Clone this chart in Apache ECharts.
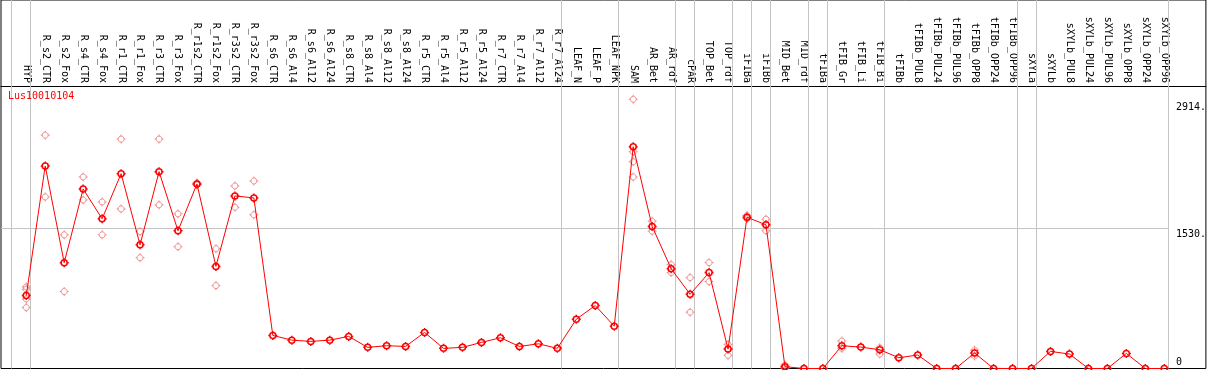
<!DOCTYPE html>
<html>
<head>
<meta charset="utf-8">
<script src="https://cdn.jsdelivr.net/npm/echarts@6/dist/echarts.min.js"></script>
<style>
html,body{margin:0;padding:0;background:#fff;}
#chart{width:1209px;height:370px;}
</style>
</head>
<body>
<div id="chart"></div>
<script>
// ---- data ----
var title = 'Lus10010104';
var categories = ['HYP','R_s2_CTR','R_s2_Fox','R_s4_CTR','R_s4_Fox','R_r1_CTR','R_r1_Fox','R_r3_CTR','R_r3_Fox','R_r1s2_CTR','R_r1s2_Fox','R_r3s2_CTR','R_r3s2_Fox','R_s6_CTR','R_s6_Al4','R_s6_Al12','R_s6_Al24','R_s8_CTR','R_s8_Al4','R_s8_Al12','R_s8_Al24','R_r5_CTR','R_r5_Al4','R_r5_Al12','R_r5_Al24','R_r7_CTR','R_r7_Al4','R_r7_Al12','R_r7_Al24','LEAF_N','LEAF_P','LEAF_NPK','SAM','AR_Bet','AR_rdf','cPAR','TOP_Bet','TOP_rdf','iFIBa','iFIBb','MID_Bet','MID_rdf','tFIBa','tFIB_Gr','tFIB_Li','tFIB_Bi','tFIBb','tFIBb_PUL8','tFIBb_PUL24','tFIBb_PUL96','tFIBb_OPP8','tFIBb_OPP24','tFIBb_OPP96','sXYLa','sXYLb','sXYLb_PUL8','sXYLb_PUL24','sXYLb_PUL96','sXYLb_OPP8','sXYLb_OPP24','sXYLb_OPP96'];
var meanValues = [797,2213,1156,1962,1636,2129,1352,2151,1505,2017,1116,1886,1864,361,310,296,310,351,231,249,241,394,220,231,285,336,241,270,220,539,688,463,2423,1552,1091,811,1048,212,1653,1570,20,0,0,249,234,205,118,147,0,0,169,0,0,0,187,158,0,0,165,0,0];
var replicateValues = [
  [891,866,760,666],[2550,1875],[1461,841],[2093,1842],[1820,1461],[2507,1744],[1497,1211],[2507,1788],[1690,1331],[2028,2006],[1309,906],[1995,1762],[2049,1679],
  [],[],[],[],[],[],[],[],[],[],[],[],[],[],[],[],[],[],[],
  [2942,2369,2260,2093],[1610,1501],[1135,1048],[993,615],[1157,950],[263,144],[1672,1636],[1632,1505],[38,5],[],[],[300,220],[],[227,158],[],[],[],[],[201,137],[],[],[],[],[],[],[],[],[],[]
];
var yTickValues = [0,1530,2914];
var yGridValue = 1530;
var separatorsAfter = [-1,0,28,31,34,35,37,38,39,41,42,45,52,53,60];

// ---- build ----
var FONT = 'DejaVu Sans Mono';
var xMin = -1.332, xMax = -1.332 + 1207/19;
var sepOffset = 0.23;
var mainData = meanValues.map(function(v,i){return [i,v];});
var repData = [];
replicateValues.forEach(function(arr,i){arr.forEach(function(v){repData.push([i,v]);});});
var catIdx = categories.map(function(c,i){return i;});
var sepLines = separatorsAfter.map(function(s){return {xAxis: s + sepOffset};});
sepLines.push([{coord:[xMin,yGridValue]},{coord:[separatorsAfter[separatorsAfter.length-1]+sepOffset,yGridValue]}]);

var markerPath = 'path://M4.5,0 L4.5,1.5 M4.5,7.5 L4.5,9 M0,4.5 L1.5,4.5 M7.5,4.5 L9,4.5 ' +
  'M7.5,4.5 C7.5,6.157 6.157,7.5 4.5,7.5 C2.843,7.5 1.5,6.157 1.5,4.5 C1.5,2.843 2.843,1.5 4.5,1.5 C6.157,1.5 7.5,2.843 7.5,4.5 Z';

var chart = echarts.init(document.getElementById('chart'), null, {renderer:'canvas'});
chart.setOption({
  animation:false,
  backgroundColor:'#fff',
  title:{text:title,left:8,top:91,padding:0,textStyle:{color:'#ff0000',fontSize:10,fontWeight:'normal',fontFamily:FONT}},
  grid:{left:1,right:1,top:0,bottom:1.5,show:true,borderColor:'#000',borderWidth:1,backgroundColor:'transparent'},
  xAxis:{type:'value',position:'top',offset:-86,min:xMin,max:xMax,
    axisLine:{show:true,onZero:false,lineStyle:{color:'#000',width:1}},
    axisTick:{show:false},splitLine:{show:false},
    axisLabel:{customValues:catIdx,rotate:90,margin:3,fontSize:10,fontFamily:FONT,color:'#000',
      formatter:function(v){return categories[Math.round(v)]||'';}}},
  yAxis:{type:'value',position:'right',min:0,max:4027,
    axisLine:{show:false},axisTick:{show:false},splitLine:{show:false},
    axisLabel:{customValues:yTickValues,inside:true,align:'left',margin:30,fontSize:10,fontFamily:FONT,color:'#000',
      formatter:function(v){return v===0?'{b|0}':'{t|'+v+'.}';},
      rich:{t:{padding:[11,0,0,0],fontSize:10,fontFamily:FONT,color:'#000'},b:{padding:[0,0,13,0],fontSize:10,fontFamily:FONT,color:'#000'}}}},
  series:[
    {type:'scatter',data:repData,symbol:markerPath,symbolSize:9,z:2,silent:true,
      itemStyle:{color:'rgba(0,0,0,0)',borderColor:'#f08c8c',borderWidth:1,opacity:1},
      markLine:{silent:true,symbol:'none',label:{show:false},z:1,animation:false,
        lineStyle:{color:'#c4c4c4',width:1,type:'solid'},emphasis:{disabled:true},data:sepLines}},
    {type:'line',data:mainData,symbol:markerPath,symbolSize:9,z:3,silent:true,showAllSymbol:true,
      lineStyle:{color:'#ff0000',width:1},
      itemStyle:{color:'rgba(0,0,0,0)',borderColor:'#ff0000',borderWidth:1.5}}
  ]
});
</script>
</body>
</html>
